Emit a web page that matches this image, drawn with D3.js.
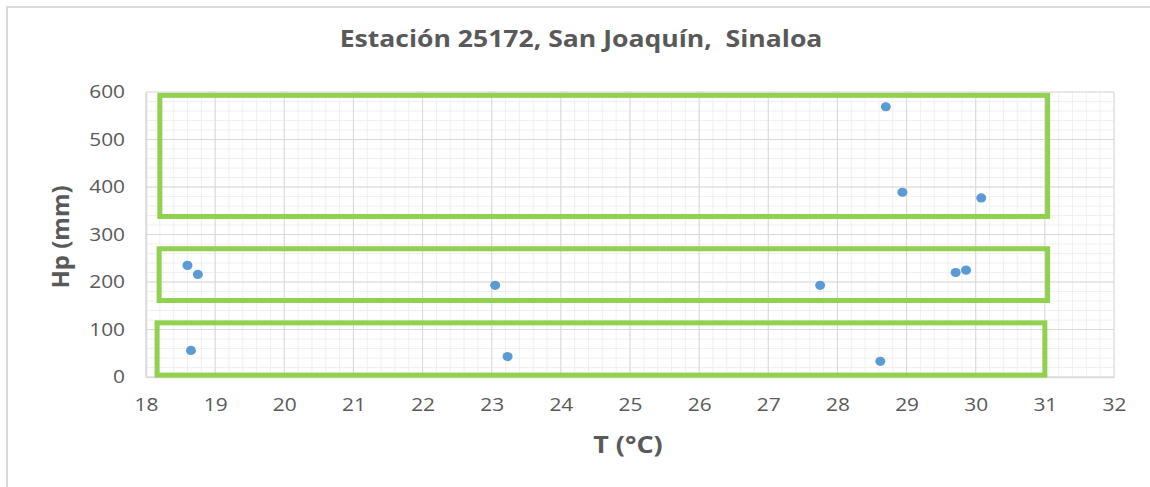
<!DOCTYPE html>
<html>
<head>
<meta charset="utf-8">
<script src="https://cdn.jsdelivr.net/npm/d3@7"></script>
<style>
  html, body { margin: 0; padding: 0; background: #fff; }
  svg { display: block; }
</style>
</head>
<body>
<svg id="chart" width="1150" height="487"></svg>
<script>
// ---- data ----
const chartTitle = "Estación 25172, San Joaquín,  Sinaloa";
const xTitle = "T (°C)";
const yTitle = "Hp (mm)";
const temps = [18.6, 18.75, 18.65, 23.05, 23.23, 27.75, 28.62, 28.7, 28.94, 30.08, 29.71, 29.86];
const precip = [235, 216, 56, 193, 43, 193, 33, 569, 389, 377, 220, 225];
const xTicks = [18, 19, 20, 21, 22, 23, 24, 25, 26, 27, 28, 29, 30, 31, 32];
const yTicks = [0, 100, 200, 300, 400, 500, 600];
// annotation boxes (data units)
const boxX0 = [18.2, 18.19, 18.16];
const boxX1 = [31.04, 31.04, 31.0];
const boxY0 = [338, 161, 4];
const boxY1 = [593, 270, 114];

// ---- layout ----
const svg = d3.select("#chart");
const pL = 146, pR = 1114, pT = 92, pB = 377;
const x = d3.scaleLinear().domain([18, 32]).range([pL, pR]);
const y = d3.scaleLinear().domain([0, 600]).range([pB, pT]);
const font = "'Open Sans', 'Liberation Sans', sans-serif";
const sx = 1.16; // horizontal text stretch

// outer frame (partially visible)
svg.append("path")
  .attr("d", `M7,487 L7,7 L1150,7`)
  .attr("fill", "none").attr("stroke", "#d9d9d9").attr("stroke-width", 2);

// minor grid
const xMinor = d3.range(18, 32.0001, 0.2).map(v => +v.toFixed(1));
const yMinor = d3.range(0, 600.0001, 20);
const g = svg.append("g");
g.selectAll(".xm").data(xMinor).join("line")
  .attr("x1", d => x(d)).attr("x2", d => x(d)).attr("y1", pT).attr("y2", pB)
  .attr("stroke", "#f0f0f0").attr("stroke-width", 1);
g.selectAll(".ym").data(yMinor).join("line")
  .attr("y1", d => y(d)).attr("y2", d => y(d)).attr("x1", pL).attr("x2", pR)
  .attr("stroke", "#f0f0f0").attr("stroke-width", 1);
// major grid
g.selectAll(".xM").data(xTicks).join("line")
  .attr("x1", d => x(d)).attr("x2", d => x(d)).attr("y1", pT).attr("y2", pB)
  .attr("stroke", "#d9d9d9").attr("stroke-width", 1);
g.selectAll(".yM").data(yTicks).join("line")
  .attr("y1", d => y(d)).attr("y2", d => y(d)).attr("x1", pL).attr("x2", pR)
  .attr("stroke", "#d9d9d9").attr("stroke-width", 1);

// axes
const xAxis = svg.append("g").attr("transform", `translate(0,${pB})`)
  .call(d3.axisBottom(x).tickValues(xTicks).tickSize(0).tickPadding(21).tickFormat(d3.format("d")));
const yAxis = svg.append("g").attr("transform", `translate(${pL},0)`)
  .call(d3.axisLeft(y).tickValues(yTicks).tickSize(0).tickPadding(21).tickFormat(d3.format("d")));
[xAxis, yAxis].forEach(a => {
  a.select(".domain").attr("stroke", "#d9d9d9").attr("stroke-width", 1.5);
  a.selectAll("text").attr("fill", "#595959").style("font-family", font).style("font-size", "18px");
});
// stretch tick labels horizontally around their anchors
yAxis.selectAll(".tick text").attr("x", -21 / sx).attr("transform", `scale(${sx},1)`);
xAxis.selectAll(".tick text").attr("transform", `scale(${sx},1)`);

// annotation boxes
const boxes = boxX0.map((v, i) => ({ x0: v, x1: boxX1[i], y0: boxY0[i], y1: boxY1[i] }));
svg.selectAll(".box").data(boxes).join("rect")
  .attr("x", d => x(d.x0)).attr("y", d => y(d.y1))
  .attr("width", d => x(d.x1) - x(d.x0)).attr("height", d => y(d.y0) - y(d.y1))
  .attr("fill", "none").attr("stroke", "#92d050").attr("stroke-width", 5);

// points
const pts = temps.map((t, i) => ({ t, p: precip[i] }));
svg.selectAll(".pt").data(pts).join("ellipse")
  .attr("cx", d => x(d.t)).attr("cy", d => y(d.p))
  .attr("rx", 5).attr("ry", 4.6).attr("fill", "#5b9bd5");

// titles
svg.append("text").attr("transform", `translate(581,47) scale(1.155,1)`).attr("text-anchor", "middle")
  .attr("xml:space", "preserve").style("white-space", "pre")
  .style("font-family", font).style("font-size", "23px").style("font-weight", "bold")
  .attr("fill", "#595959").text(chartTitle);
svg.append("text").attr("transform", `translate(628,453) scale(1.12,1)`).attr("text-anchor", "middle")
  .style("font-family", font).style("font-size", "24px").style("font-weight", "bold")
  .attr("fill", "#595959").text(xTitle);
svg.append("text").attr("transform", "translate(69,237) rotate(-90)").attr("text-anchor", "middle")
  .style("font-family", font).style("font-size", "24px").style("font-weight", "bold")
  .attr("fill", "#595959").text(yTitle);
</script>
</body>
</html>
